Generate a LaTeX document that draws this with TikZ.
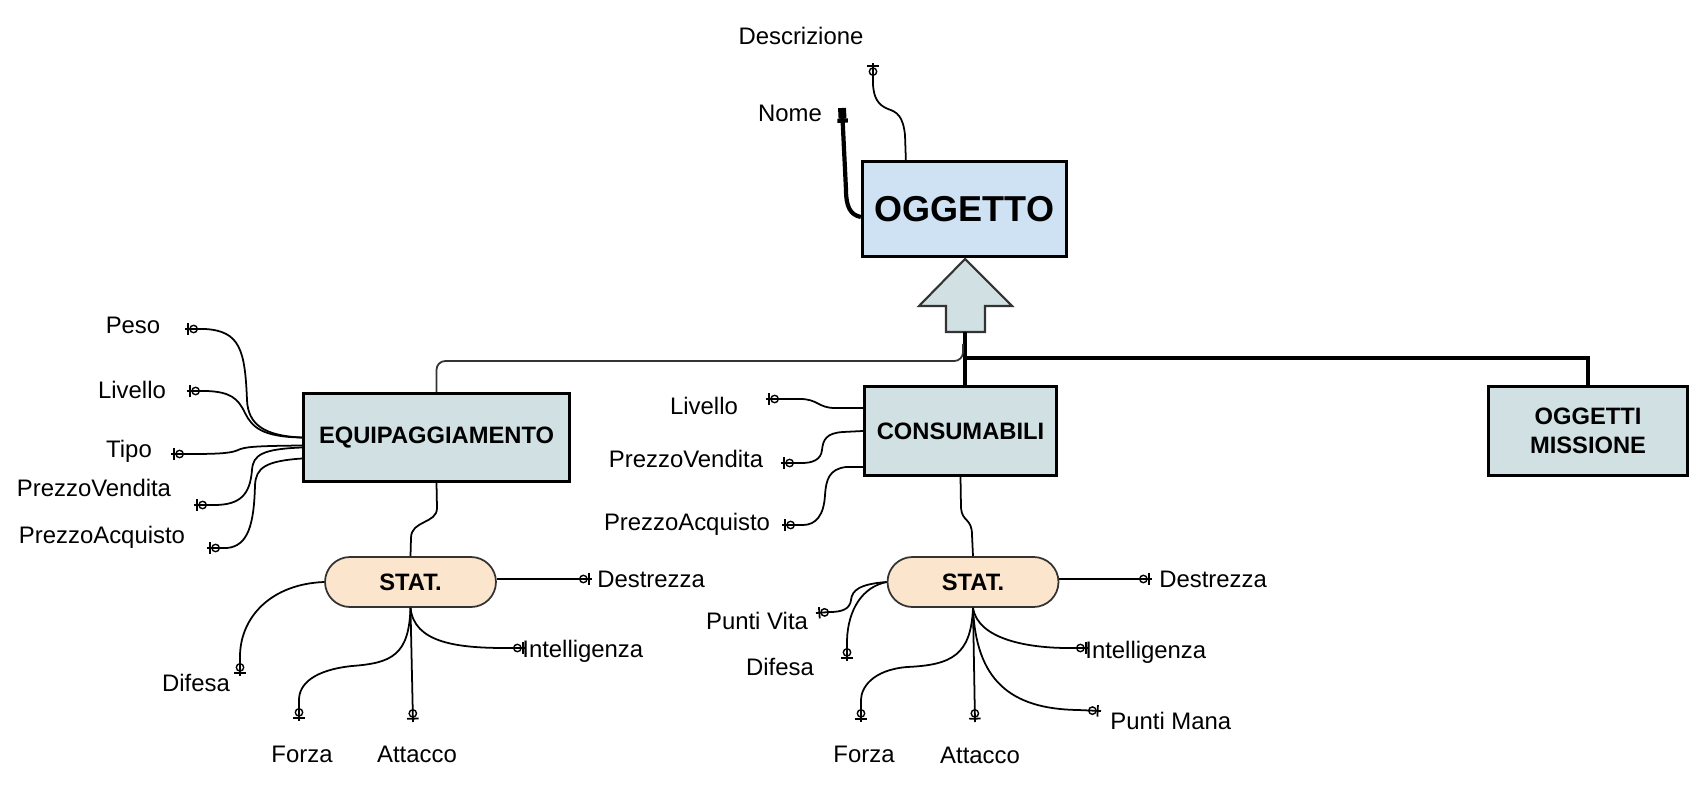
\documentclass[tikz,border=0pt]{standalone}
\usepackage{fontspec}
\setmainfont{Liberation Sans}
\usetikzlibrary{arrows.meta,positioning,calc}

\definecolor{oggblue}{RGB}{207,226,243}
\definecolor{entgray}{RGB}{208,224,227}
\definecolor{statpeach}{RGB}{252,229,205}
\definecolor{darkline}{RGB}{51,51,51}

\begin{document}
\begin{tikzpicture}[
        x=0.02cm, y=-0.02cm,
        every node/.style={font=\fontsize{13.6}{16}\selectfont},
        attrname/.style={inner sep=0pt},
        entity/.style={rectangle, draw, line width=1.7pt, fill=entgray, align=center, font=\fontsize{13.5}{16.4}\selectfont\bfseries},
        statbox/.style={rectangle, rounded corners=0.5cm, draw=darkline, line width=1pt, fill=statpeach, minimum width=3.42cm, minimum height=1.0cm, font=\fontsize{13.5}{16}\selectfont\bfseries},
        attr/.style={line width=1pt, -{Circle[open,length=5pt,width=5pt,line width=0.8pt]Bar[width=6.5pt]Rectangle[length=1.4pt,width=1pt]}},
        key/.style={line width=2.4pt, -{Bar[width=6pt]Rectangle[length=6pt,width=4.5pt]}},
        link/.style={line width=1pt},
        bus/.style={line width=1.8pt},
        branch/.style={line width=1pt, draw=black!80, rounded corners=5pt},
        isa/.style={draw=darkline, line width=1.2pt, fill=entgray, line join=miter}
    ]
    \useasboundingbox (0,0) rectangle (1699,803);

    % entities
    \node[entity, fill=oggblue, line width=1.9pt, minimum width=4.08cm, minimum height=1.9cm, font=\fontsize{20.5}{24}\selectfont\bfseries] (oggetto) at (964.5,209) {OGGETTO};
    \node[entity, minimum width=5.32cm, minimum height=1.76cm] (equip) at (436.5,437.5) {EQUIPAGGIAMENTO};
    \node[entity, minimum width=3.84cm, minimum height=1.78cm] (consum) at (960.5,431) {CONSUMABILI};
    \node[entity, minimum width=3.98cm, minimum height=1.78cm] (missione) at (1588,431) {OGGETTI\\MISSIONE};
    \node[statbox] (stat1) at (410.5,582) {STAT.};
    \node[statbox] (stat2) at (973,582) {STAT.};

    % generalisation
    \draw[isa] (965,259) -- (1012,306) -- (985,306) -- (985,332) -- (946,332) -- (946,306) -- (919,306) -- cycle;
    \coordinate (isafoot) at (965,332);
    \coordinate (busjoint) at (965,358);
    \draw[bus] (isafoot) -- (busjoint) -| (missione.north);
    \draw[bus] (busjoint) -- (busjoint |- consum.north);
    \draw[branch] ($(busjoint)+(-2,-14)$) |- ($(equip.north)+(0,-31)$) -- (equip.north);

    % attribute names
    \node[attrname] (lDescr) at (801,36) {Descrizione};
    \node[attrname] (lNome) at (790,113) {Nome};
    \node[attrname] (lPeso) at (133,325) {Peso};
    \node[attrname] (lLiv) at (132,390) {Livello};
    \node[attrname] (lTipo) at (129,451) {Tipo};
    \node[attrname] (lPVend) at (94,488) {PrezzoVendita};
    \node[attrname] (lPAcq) at (102,537) {PrezzoAcquisto};
    \node[attrname] (lLiv2) at (704,406) {Livello};
    \node[attrname] (lPVend2) at (686,459) {PrezzoVendita};
    \node[attrname] (lPAcq2) at (687,524) {PrezzoAcquisto};
    \node[attrname, anchor=west] (lDes1) at (597,579) {Destrezza};
    \node[attrname] (lDif1) at (196,683) {Difesa};
    \node[attrname] (lFor1) at (302,754) {Forza};
    \node[attrname] (lAtt1) at (417,754) {Attacco};
    \node[attrname, anchor=west] (lInt1) at (522,651) {Intelligenza};
    \node[attrname, anchor=west] (lDes2) at (1159,579) {Destrezza};
    \node[attrname] (lPVita) at (757,621) {Punti Vita};
    \node[attrname] (lDif2) at (780,667) {Difesa};
    \node[attrname] (lFor2) at (864,754) {Forza};
    \node[attrname] (lAtt2) at (980,755) {Attacco};
    \node[attrname, anchor=west] (lInt2) at (1085,652) {Intelligenza};
    \node[attrname, anchor=west] (lPMana) at (1110,721) {Punti Mana};

    % attribute ends
    \coordinate (nomeEnd) at (842,108);
    \coordinate (descrEnd) at (873,63);
    \coordinate (pesoEnd) at (185,329);
    \coordinate (livEnd) at (187,391);
    \coordinate (tipoEnd) at (171,454);
    \coordinate (pvendEnd) at (194,505);
    \coordinate (pacqEnd) at (207,548);
    \coordinate (livEnd2) at (766,399);
    \coordinate (pvendEnd2) at (781,463);
    \coordinate (pacqEnd2) at (782,525);
    \coordinate (desEnd1) at (592,579);
    \coordinate (difEnd1) at (240,676);
    \coordinate (forEnd1) at (299,721);
    \coordinate (attEnd1) at (413,722);
    \coordinate (intEnd1) at (526,648);
    \coordinate (desEnd2) at (1152,579);
    \coordinate (pvitaEnd) at (816,613);
    \coordinate (difEnd2) at (847,661);
    \coordinate (forEnd2) at (861,722);
    \coordinate (attEnd2) at (975,722);
    \coordinate (intEnd2) at (1089,648);
    \coordinate (pmanaEnd) at (1101,711);

    % oggetto
    \draw[key] ($(oggetto.west)+(0,8)$) .. controls (850,215) and (846,206) .. (846,190) -- (nomeEnd);
    \draw[attr] ($(oggetto.north west)+(45,0)$) -- (905,135) .. controls (903,116) and (897,112) .. (888,109) .. controls (878,105) and (874,98) .. (873,85) -- (descrEnd);

    % equipaggiamento
    \draw[attr] (equip.west) .. controls (265,436) and (248,425) .. (247,400) .. controls (245,350) and (240,331) .. (205,329) -- (pesoEnd);
    \draw[attr] (equip.west) .. controls (262,437) and (252,427) .. (245,413) .. controls (238,398) and (230,392) .. (207,391) -- (livEnd);
    \draw[attr] ($(equip.west)+(0,8)$) .. controls (252,446) and (245,447) .. (238,450) .. controls (232,453) and (220,454) .. (192,454) -- (tipoEnd);
    \draw[attr] ($(equip.west)+(0,10)$) .. controls (262,449) and (253,455) .. (252,470) .. controls (250,495) and (240,505) .. (214,505) -- (pvendEnd);
    \draw[attr] ($(equip.west)+(0,21)$) .. controls (265,461) and (256,468) .. (255,485) .. controls (254,525) and (248,546) .. (227,548) -- (pacqEnd);
    \draw[link] (equip.south) -- (437,508) .. controls (437,524) and (411,520) .. (411,538) -- (stat1.north);

    \draw[attr] ($(stat1.east)+(0,-3)$) -- (desEnd1);
    \draw[attr] (stat1.west) .. controls (272,584) and (241,616) .. (240,655) -- (difEnd1);
    \draw[attr] (stat1.south) .. controls (409,655) and (392,663) .. (352,666) .. controls (314,670) and (299,684) .. (299,700) -- (forEnd1);
    \draw[attr] (stat1.south) -- (attEnd1);
    \draw[attr] (stat1.south) .. controls (414,642) and (455,648) .. (505,648) -- (intEnd1);

    % consumabili
    \draw[attr] ($(consum.west)+(0,-23)$) -- (835,408) .. controls (818,408) and (818,399) .. (800,399) -- (livEnd2);
    \draw[attr] (consum.west) -- (843,432) .. controls (826,433) and (823,440) .. (822,450) .. controls (821,460) and (812,463) .. (802,463) -- (pvendEnd2);
    \draw[attr] ($(consum.west)+(0,36)$) -- (846,467) .. controls (829,469) and (826,480) .. (825,495) .. controls (824,515) and (816,525) .. (803,525) -- (pacqEnd2);
    \draw[link] (consum.south) -- (961,508) .. controls (962,522) and (972,518) .. (972,535) -- (stat2.north);

    \draw[attr] ($(stat2.east)+(0,-3)$) -- (desEnd2);
    \draw[attr] (stat2.west) .. controls (860,584) and (852,590) .. (851,600) .. controls (850,609) and (842,612) .. (830,612) -- (pvitaEnd);
    \draw[attr] (stat2.west) .. controls (862,587) and (848,610) .. (847,640) -- (difEnd2);
    \draw[attr] (stat2.south) .. controls (971,655) and (952,665) .. (907,667) .. controls (872,670) and (861,688) .. (861,700) -- (forEnd2);
    \draw[attr] (stat2.south) -- (attEnd2);
    \draw[attr] (stat2.south) .. controls (978,640) and (1030,648) .. (1068,648) -- (intEnd2);
    \draw[attr] (stat2.south) .. controls (976,680) and (1010,709) .. (1078,710) -- (pmanaEnd);
\end{tikzpicture}
\end{document}
